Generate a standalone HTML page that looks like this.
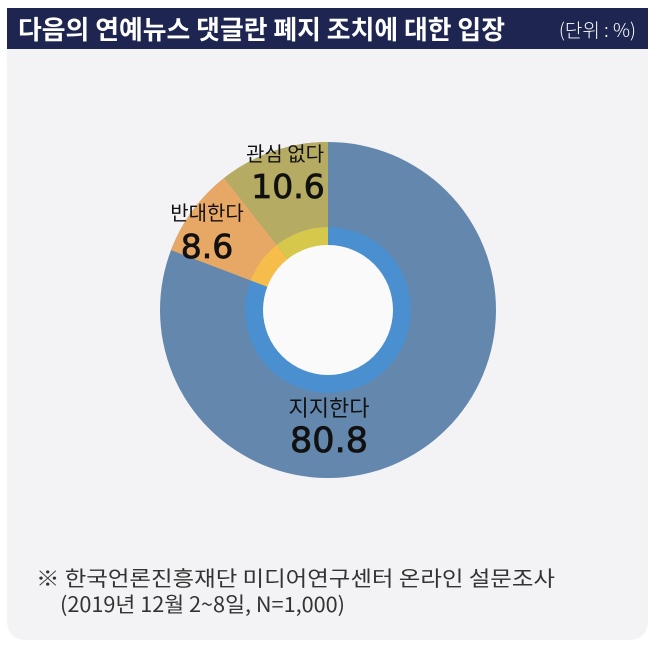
<!DOCTYPE html>
<html><head><meta charset="utf-8"><style>
body{margin:0;width:658px;height:653px;background:#fff;overflow:hidden;font-family:"Liberation Sans","Noto Sans CJK KR",sans-serif}
</style></head><body>
<svg width="658" height="653" xmlns="http://www.w3.org/2000/svg" style="position:absolute;left:0;top:0">
<path d="M7 48 H648 V620 Q648 640 628 640 H27 Q7 640 7 620 Z" fill="#f3f3f5"/>
<rect x="7" y="8" width="641" height="41" fill="#1d2550"/>
<text x="18" y="39" fill="#fff" font-size="26" font-weight="bold" font-family="Noto Sans CJK KR,sans-serif" textLength="487" lengthAdjust="spacingAndGlyphs">다음의 연예뉴스 댓글란 폐지 조치에 대한 입장</text>
<text x="636" y="37" fill="#fff" font-size="19" text-anchor="end" font-family="Noto Sans CJK KR,sans-serif" font-weight="300">(단위 : %)</text>
<circle cx="328" cy="310" r="168" fill="#6487ad"/>
<path d="M328 310 L171.04 250.12 A168 168 0 0 1 224.19 177.92 Z" fill="#e8a865"/>
<path d="M328 310 L224.19 177.92 A168 168 0 0 1 328 142 Z" fill="#b5ab62"/>
<circle cx="328" cy="310" r="83" fill="#4a8fd0"/>
<path d="M328 310 L250.45 280.42 A83 83 0 0 1 276.71 244.75 Z" fill="#f7bd4a"/>
<path d="M328 310 L276.71 244.75 A83 83 0 0 1 328 227 Z" fill="#d6c84a"/>
<circle cx="328" cy="310" r="65" fill="#fafafb"/>
<g font-family="Noto Sans CJK KR,sans-serif" fill="#111" text-anchor="middle">
<text x="285" y="161" font-size="20">관심 없다</text>
<text x="288" y="198" font-size="33" stroke="#111" stroke-width="0.8" font-family="DejaVu Sans,sans-serif">10.6</text>
<text x="207" y="220" font-size="20">반대한다</text>
<text x="207" y="258" font-size="33" stroke="#111" stroke-width="0.8" font-family="DejaVu Sans,sans-serif">8.6</text>
<text x="329" y="416" font-size="22">지지한다</text>
<text x="329" y="452" font-size="35" stroke="#111" stroke-width="0.8" font-family="DejaVu Sans,sans-serif">80.8</text>
</g>
<g font-family="Noto Sans CJK KR,sans-serif" fill="#333" font-size="21">
<text x="36" y="586" textLength="519" lengthAdjust="spacingAndGlyphs">※ 한국언론진흥재단 미디어연구센터 온라인 설문조사</text>
<text x="60" y="612" textLength="285" lengthAdjust="spacingAndGlyphs">(2019년 12월 2~8일, N=1,000)</text>
</g>
</svg>
</body></html>
